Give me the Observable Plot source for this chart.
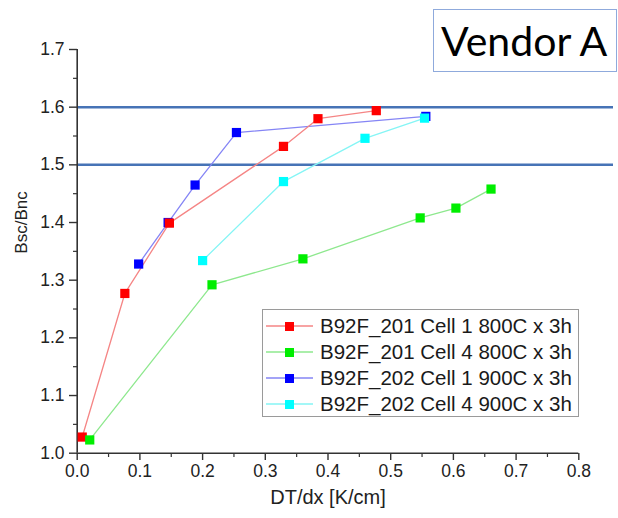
<!DOCTYPE html>
<html>
<head>
<meta charset="utf-8">
<script src="https://cdn.jsdelivr.net/npm/d3@7"></script>
<script src="https://cdn.jsdelivr.net/npm/@observablehq/plot@0.6"></script>
<style>
  html, body { margin: 0; padding: 0; background: #fff; }
  #wrap { position: relative; width: 618px; height: 518px; overflow: hidden; font-family: "Liberation Sans", Arial, sans-serif; }
  #title { position: absolute; left: 433px; top: 9px; width: 182px; height: 61px; border: 1.5px solid #8faadc; display: flex; align-items: center; font-family: Lato, "Open Sans", sans-serif; font-size: 41px; color: #000; box-sizing: content-box; }
  #title span { padding-left: 7px; }
  #legend { position: absolute; left: 262px; top: 309px; width: 315px; height: 106px; border: 1px solid #9a9a9a; background: #fff; }
  .row { position: absolute; left: 0; height: 26px; display: flex; align-items: center; }
  .row svg { margin-left: 3px; margin-right: 7px; }
  .row span { font-size: 20.5px; color: #1a1a1a; white-space: nowrap; }
</style>
</head>
<body>
<div id="wrap">
  <div id="chart"></div>
  <div id="title"><span>Vendor A</span></div>
  <div id="legend"></div>
</div>
<script>
const chartTitle = "Vendor A";
const xTitle = "DT/dx [K/cm]";
const yTitle = "Bsc/Bnc";
const xDomain = [0, 0.8];
const yDomain = [1.0, 1.7];
const xTicks = [0, 0.1, 0.2, 0.3, 0.4, 0.5, 0.6, 0.7, 0.8];
const xMinor = [0.05, 0.15, 0.25, 0.35, 0.45, 0.55, 0.65, 0.75];
const yTicks = [1.0, 1.1, 1.2, 1.3, 1.4, 1.5, 1.6, 1.7];
const yMinor = [1.05, 1.15, 1.25, 1.35, 1.45, 1.55, 1.65];
const refLines = [1.5, 1.6];

const seriesNames = [
  "B92F_201 Cell 1 800C x 3h",
  "B92F_201 Cell 4 800C x 3h",
  "B92F_202 Cell 1 900C x 3h",
  "B92F_202 Cell 4 900C x 3h"
];
const markerColors = ["#ff0000", "#00ee00", "#0000ff", "#00ffff"];
const lineColors = ["#f58585", "#8ee88e", "#8585f5", "#85f5f5"];

// series values
const redX = [0.008, 0.076, 0.147, 0.329, 0.384, 0.477];
const redY = [1.028, 1.277, 1.399, 1.532, 1.580, 1.594];
const greenX = [0.020, 0.215, 0.360, 0.547, 0.604, 0.660];
const greenY = [1.023, 1.292, 1.337, 1.408, 1.425, 1.458];
const blueX = [0.098, 0.145, 0.188, 0.254, 0.556];
const blueY = [1.328, 1.400, 1.465, 1.556, 1.584];
const cyanX = [0.200, 0.329, 0.459, 0.554];
const cyanY = [1.334, 1.471, 1.546, 1.581];

const seriesX = [redX, greenX, blueX, cyanX];
const seriesY = [redY, greenY, blueY, cyanY];
const series = seriesNames.map((name, i) => ({
  name, i,
  rows: seriesX[i].map((x, j) => ({x, y: seriesY[i][j]}))
}));
// drawing order of markers (later on top)
const drawOrder = [2, 3, 0, 1];

const axisColor = "#333";
const marks = [
  Plot.ruleY(refLines, {stroke: "#4673b6", strokeWidth: 2.5}),
  Plot.ruleY([yDomain[0]], {x1: xDomain[0], x2: xDomain[1], stroke: axisColor, strokeWidth: 1.6}),
  Plot.ruleX([xDomain[0]], {y1: yDomain[0], y2: yDomain[1], stroke: axisColor, strokeWidth: 1.6}),
  Plot.axisX({ticks: xTicks, tickSize: 7, tickPadding: 4, stroke: axisColor, strokeWidth: 1.4, fill: "#222", tickFormat: d => d.toFixed(1), label: null}),
  Plot.axisX({ticks: xMinor, tickSize: 4, stroke: axisColor, strokeWidth: 1.2, tickFormat: () => "", label: null}),
  Plot.axisY({ticks: yTicks, tickSize: 8, tickPadding: 5, stroke: axisColor, strokeWidth: 1.4, fill: "#222", tickFormat: d => d.toFixed(1), label: null}),
  Plot.axisY({ticks: yMinor, tickSize: 4, stroke: axisColor, strokeWidth: 1.2, tickFormat: () => "", label: null}),
  Plot.text([xTitle], {x: () => (xDomain[0] + xDomain[1]) / 2, frameAnchor: "bottom", dy: 50, text: d => d, fontSize: 20, fill: "#222"}),
  Plot.text([yTitle], {y: () => 1.4, frameAnchor: "left", textAnchor: "middle", dx: -56, rotate: -90, text: d => d, fontSize: 17, fill: "#222"})
];
for (const k of drawOrder) {
  const s = series[k];
  marks.push(Plot.line(s.rows, {x: "x", y: "y", stroke: lineColors[k], strokeWidth: 1.3}));
}
for (const k of drawOrder) {
  const s = series[k];
  marks.push(Plot.dot(s.rows, {x: "x", y: "y", symbol: "square", r: 5.2, fill: markerColors[k], stroke: "none"}));
}

const chart = Plot.plot({
  width: 618,
  height: 518,
  marginLeft: 77,
  marginRight: 5,
  marginTop: 10,
  marginBottom: 65,
  style: {fontFamily: "'Liberation Sans', Arial, sans-serif", fontSize: "17.5px", background: "#fff"},
  x: {domain: xDomain, range: [76.7, 578.3]},
  y: {domain: yDomain, range: [452.7, 49]},
  marks
});
document.getElementById("chart").appendChild(chart);

document.querySelector("#title span").textContent = chartTitle;
const legend = document.getElementById("legend");
seriesNames.forEach((name, i) => {
  const row = document.createElement("div");
  row.className = "row";
  row.style.top = (3 + i * 26) + "px";
  row.innerHTML = `<svg width="47" height="12"><line x1="0" y1="6" x2="47" y2="6" stroke="${lineColors[i]}" stroke-width="1.3"/><rect x="19" y="2" width="9" height="9" fill="${markerColors[i]}"/></svg><span></span>`;
  row.querySelector("span").textContent = name;
  legend.appendChild(row);
});
</script>
</body>
</html>
